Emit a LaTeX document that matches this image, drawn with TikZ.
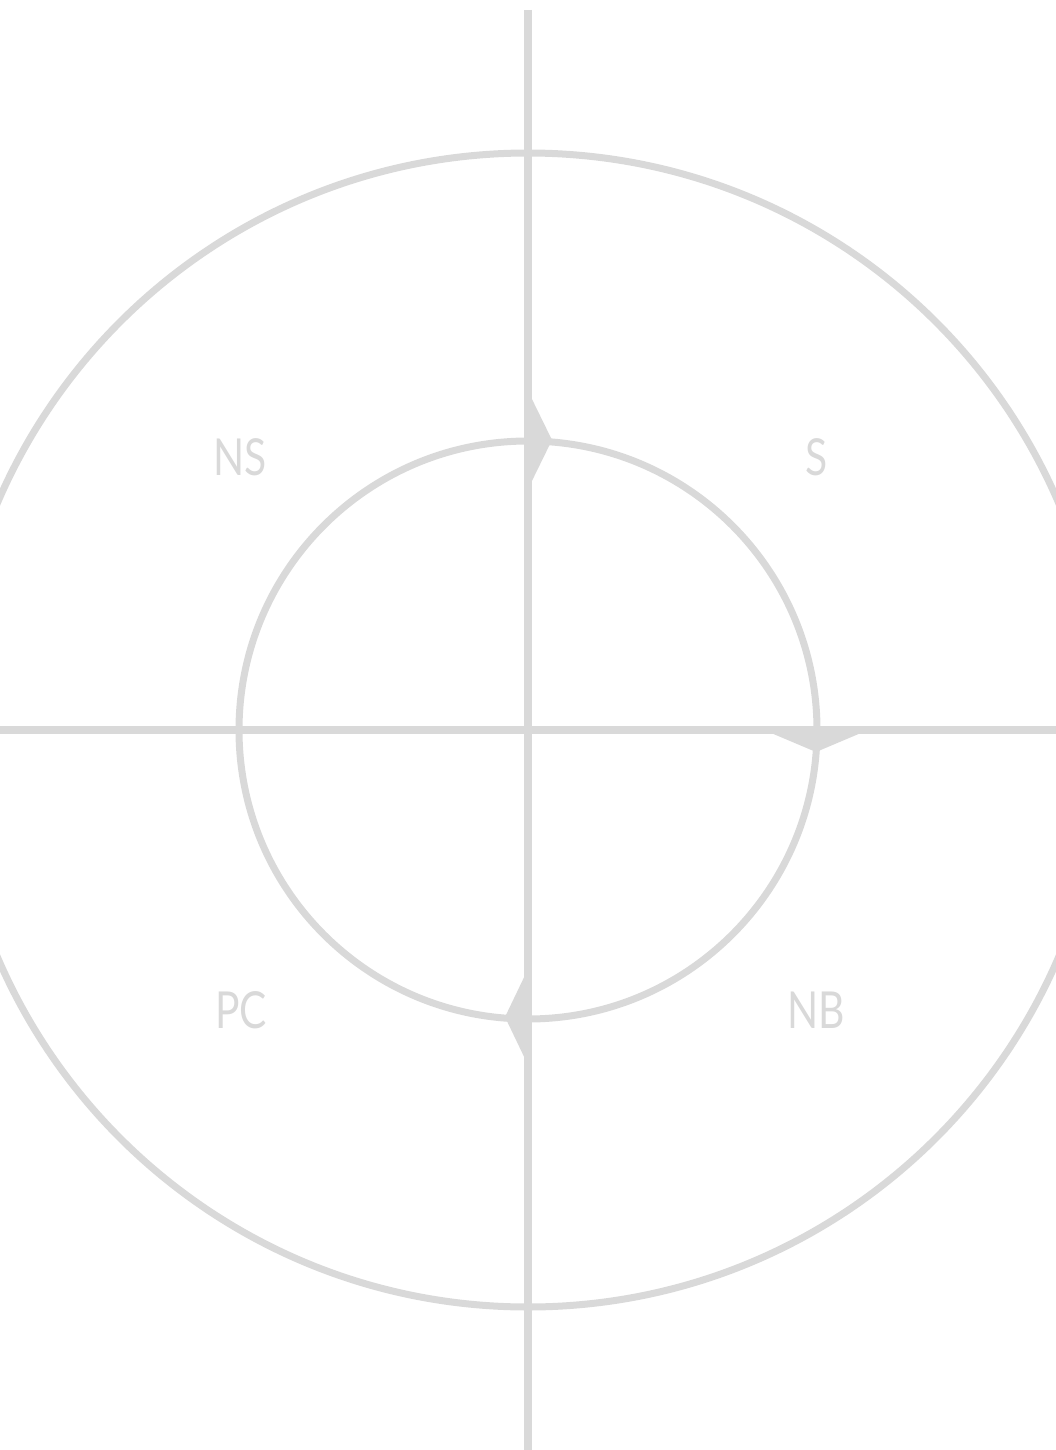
\documentclass[tikz,border=0pt]{standalone}
\usepackage{fontspec}
\setmainfont{Lato}
\definecolor{lg}{HTML}{D9D9D9}
\begin{document}
\begin{tikzpicture}[x=1pt,y=-1pt,
  ring/.style={draw=lg,line width=7pt},
  axis/.style={draw=lg,line width=8pt},
  head/.style={fill=lg,draw=none},
  lab/.style={text=lg,font=\fontsize{51}{60}\selectfont,inner sep=0pt,xscale=0.8}]
\useasboundingbox (0,0) rectangle (1056,1450);
\clip (0,0) rectangle (1056,1450);
\coordinate (c) at (528,730);
\draw[ring] (c) circle[radius=577];
\draw[ring] (c) circle[radius=289];
\coordinate (vt) at (528,10);
\coordinate (vb) at (528,1450);
\coordinate (hl) at (0,730);
\coordinate (hr) at (1056,730);
\draw[axis] (vt) -- (vb);
\draw[axis] (hl) -- (hr);
\fill[head] (528,391) -- (552,440) -- (528,489) -- cycle;
\fill[head] (764,730) -- (816,752) -- (868,730) -- cycle;
\fill[head] (528,969) -- (505,1017) -- (528,1065) -- cycle;
\node[lab] (ns) at (240,457) {NS};
\node[lab] (s) at (817,457) {S};
\node[lab] (pc) at (241,1010) {PC};
\node[lab] (nb) at (816,1010) {NB};
\end{tikzpicture}
\end{document}
